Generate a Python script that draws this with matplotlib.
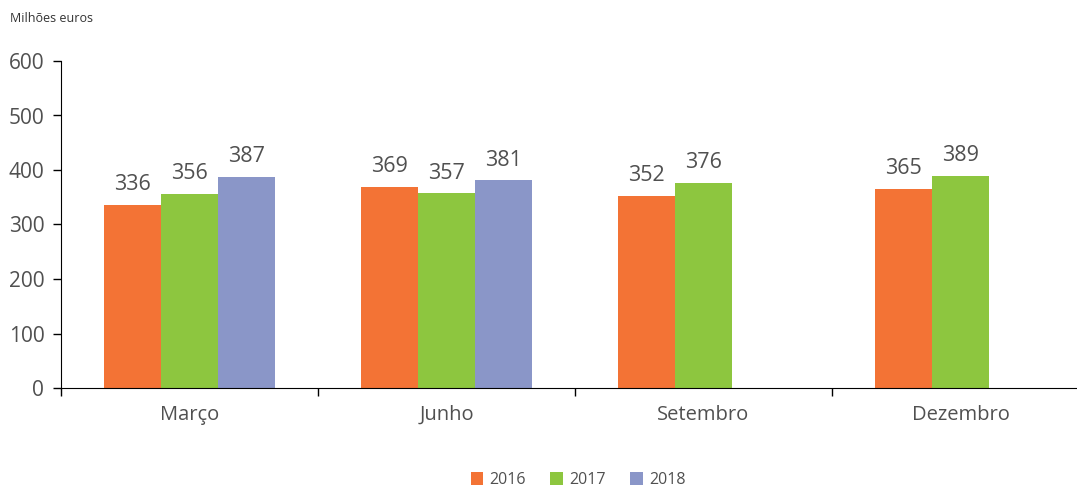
import matplotlib
matplotlib.use("Agg")
import matplotlib.pyplot as plt
import numpy as np

categories = ["Março", "Junho", "Setembro", "Dezembro"]
years = ["2016", "2017", "2018"]
v2016 = [336, 369, 352, 365]
v2017 = [356, 357, 376, 389]
v2018 = [387, 381, None, None]
colors = ["#F37335", "#8DC63F", "#8A96C8"]
yticks = [0, 100, 200, 300, 400, 500, 600]

plt.rcParams['font.family'] = ['Open Sans', 'DejaVu Sans']
text_color = "#505050"

fig = plt.figure(figsize=(10.77, 4.86), dpi=100)
ax = fig.add_axes([61/1077, 98/486, 1028/1077, 327/486])

x = np.arange(len(categories))
w = 0.222
series = [v2016, v2017, v2018]
for i, (vals, col, yr) in enumerate(zip(series, colors, years)):
    xs = [xi + (i - 1) * w for xi, v in zip(x, vals) if v is not None]
    vs = [v for v in vals if v is not None]
    bars = ax.bar(xs, vs, width=w, color=col, label=yr, linewidth=0)
    for b, v in zip(bars, vs):
        ax.annotate(str(v), (b.get_x() + b.get_width() / 2, v), xytext=(0, 7),
                    textcoords="offset points", ha="center", va="bottom",
                    fontsize=15.5, color=text_color)

ax.set_xlim(-0.5, len(categories) - 0.5)
ax.set_ylim(0, 600)
ax.set_yticks(yticks)
ax.tick_params(axis='y', labelsize=15, labelcolor=text_color, length=6, width=1, pad=6)
ax.set_xticks(x)
ax.set_xticklabels(categories)
ax.tick_params(axis='x', length=0, labelsize=14.5, labelcolor=text_color, pad=12)
ax.set_xticks(np.arange(len(categories)) - 0.5, minor=True)
ax.tick_params(axis='x', which='minor', length=6, width=1, color='black')
for s in ['top', 'right']:
    ax.spines[s].set_visible(False)
ax.spines['left'].set_color('black')
ax.spines['bottom'].set_color('black')

fig.text(10/1077, 1 - 18/486, "Milhões euros", fontsize=9, color="#333333", va="center", ha="left")

fig.legend(loc="center", bbox_to_anchor=(578/1077, 1 - 480/486), ncol=3, frameon=False,
           fontsize=11.5, handlelength=0.8, handleheight=0.8, handletextpad=0.4,
           columnspacing=1.5, labelcolor=text_color)

fig.savefig("out.png", dpi=100)
